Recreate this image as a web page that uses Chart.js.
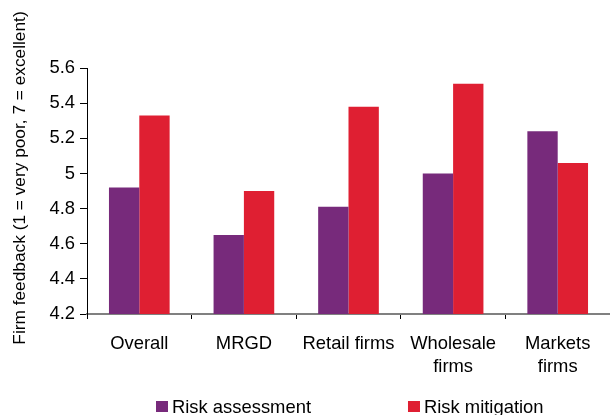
<!DOCTYPE html>
<html>
<head>
<meta charset="utf-8">
<script src="https://cdn.jsdelivr.net/npm/chart.js@4"></script>
<style>
  html, body { margin: 0; padding: 0; background: #fff; overflow: hidden; }
  #wrap { width: 610px; height: 430px; position: relative; }
</style>
</head>
<body>
<div id="wrap"><canvas id="c"></canvas></div>
<script>
// Firm feedback scores by firm group
const categories = ['Overall', 'MRGD', 'Retail firms', ['Wholesale', 'firms'], ['Markets', 'firms']];
const riskAssessment = [4.92, 4.65, 4.81, 5.00, 5.24];
const riskMitigation = [5.33, 4.90, 5.38, 5.51, 5.06];
const yTicks = [4.2, 4.4, 4.6, 4.8, 5, 5.2, 5.4, 5.6];
const yTitle = 'Firm feedback (1 = very poor, 7 = excellent)';

const FONT = "'Liberation Sans', Arial, sans-serif";
const FS = 18.4;

// Rotated axis title and a wide-spaced legend row along the bottom edge
const decorations = {
  id: 'decorations',
  afterDraw(chart) {
    const ctx = chart.ctx;
    ctx.save();
    ctx.fillStyle = '#000';
    ctx.font = `17.3px ${FONT}`;
    ctx.translate(20, 178);
    ctx.rotate(-Math.PI / 2);
    ctx.textAlign = 'center';
    ctx.textBaseline = 'middle';
    ctx.fillText(yTitle, 0, 0);
    ctx.restore();

    ctx.save();
    ctx.font = `${FS}px ${FONT}`;
    ctx.textAlign = 'left';
    ctx.textBaseline = 'alphabetic';
    let x = 156;
    chart.data.datasets.forEach((ds) => {
      ctx.fillStyle = ds.backgroundColor;
      ctx.fillRect(x, 401, 12, 11);
      ctx.fillStyle = '#000';
      ctx.fillText(ds.label, x + 16, 413);
      x += 16 + ctx.measureText(ds.label).width + 97;
    });
    ctx.restore();
  }
};

new Chart(document.getElementById('c'), {
  type: 'bar',
  data: {
    labels: categories,
    datasets: [
      { label: 'Risk assessment', data: riskAssessment, backgroundColor: '#772A7B' },
      { label: 'Risk mitigation', data: riskMitigation, backgroundColor: '#DF1F32' }
    ]
  },
  plugins: [decorations],
  options: {
    responsive: true,
    maintainAspectRatio: false,
    animation: false,
    devicePixelRatio: 1,
    layout: { padding: { top: 68, right: 0, left: 0, bottom: 46 } },
    datasets: { bar: { barPercentage: 1.0, categoryPercentage: 0.58 } },
    plugins: {
      tooltip: { enabled: false },
      legend: { display: false }
    },
    scales: {
      x: {
        afterFit: (s) => { s.height = 70; },
        grid: { display: true, drawOnChartArea: false, tickLength: 5, color: '#000', offset: true },
        border: { color: '#808080', width: 2 },
        ticks: { color: '#000', font: { family: FONT, size: FS, lineHeight: 1.25 }, padding: 13, maxRotation: 0 },
      },
      y: {
        min: 4.2, max: 5.6,
        afterBuildTicks: (s) => { s.ticks = yTicks.map(v => ({ value: v })); },
        afterFit: (s) => { s.width = 87; },
        grid: { display: true, drawOnChartArea: false, tickLength: 7, color: '#000' },
        border: { color: '#000', width: 1 },
        ticks: {
          color: '#000', font: { family: FONT, size: FS }, padding: 5,
          callback: (v) => String(Math.round(v * 10) / 10)
        }
      }
    }
  }
});
</script>
</body>
</html>
